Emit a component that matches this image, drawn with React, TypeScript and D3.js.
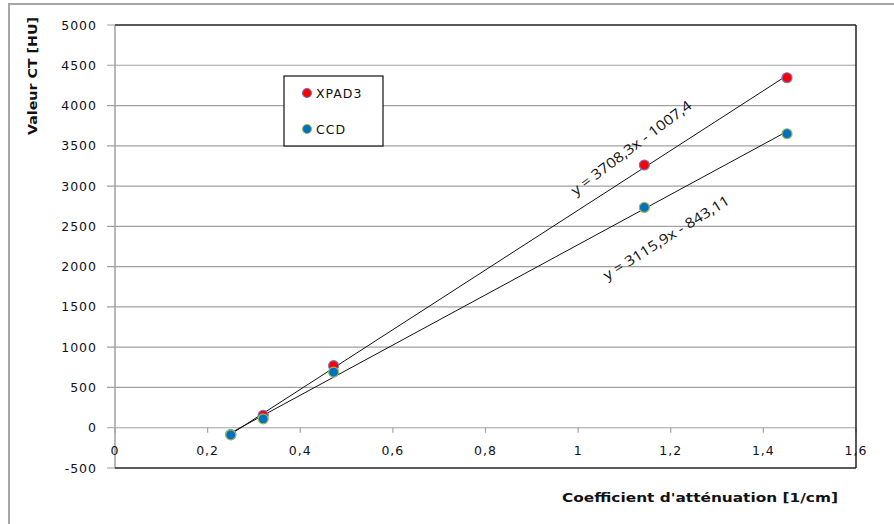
import React from "react";
import * as d3 from "d3";

const xValues = [0.25, 0.32, 0.472, 1.143, 1.451];
const xpad3Values = [-85, 155, 770, 3262, 4345];
const ccdValues = [-88, 110, 690, 2735, 3650];
const seriesNames = ["XPAD3", "CCD"];
const trendSlopes = [3708.3, 3115.9];
const trendIntercepts = [-1007.4, -843.11];
const trendLabels = ["y = 3708,3x - 1007,4", "y = 3115,9x - 843,11"];
const yTicks = [-500, 0, 500, 1000, 1500, 2000, 2500, 3000, 3500, 4000, 4500, 5000];
const xTicks = [0, 0.2, 0.4, 0.6, 0.8, 1, 1.2, 1.4, 1.6];
const yTitle = "Valeur CT [HU]";
const xTitle = "Coefficient d'atténuation [1/cm]";

const W = 894, H = 524;
const L = 115, R = 856, T = 25, B = 468;

export default function App() {
  const x = d3.scaleLinear().domain([0, 1.6]).range([L, R]);
  const y = d3.scaleLinear().domain([-500, 5000]).range([B, T]);
  const fmt = (v: number) => String(v).replace(".", ",");
  const series = [
    { name: seriesNames[0], vals: xpad3Values, fill: "#ff0000", stroke: "#7474c8" },
    { name: seriesNames[1], vals: ccdValues, fill: "#0070c0", stroke: "#9bbb59" },
  ];
  const xMin = d3.min(xValues)!, xMax = d3.max(xValues)!;
  const line = d3.line<[number, number]>().x(d => x(d[0])).y(d => y(d[1]));
  const tickFont = { fontFamily: "DejaVu Sans", fontSize: 12.5, fill: "#101020", letterSpacing: 1 };
  const labelPos = [
    { xv: 1.121, yv: 3427, angle: -37, len: 147 },
    { xv: 1.196, yv: 2309, angle: -32, len: 146 },
  ];
  return (
    <svg width={W} height={H} style={{ position: "absolute", left: 0, top: 0, background: "#fff" }}>
      <rect x={9} y={4} width={W + 20} height={H + 20} fill="#fff" stroke="#a6a6a6" strokeWidth={2} />
      {yTicks.map(t => (
        <line key={"g" + t} x1={L - 8} x2={R} y1={y(t)} y2={y(t)} stroke="#a0a0a0" strokeWidth={1.2} />
      ))}
      <line x1={L} x2={L} y1={T} y2={B} stroke="#a0a0a0" strokeWidth={1.5} />
      {xTicks.map(t => (
        <line key={"xt" + t} x1={x(t)} x2={x(t)} y1={y(0)} y2={y(0) + 5} stroke="#a0a0a0" strokeWidth={1.2} />
      ))}
      <line x1={L} x2={R} y1={T} y2={T} stroke="#333" strokeWidth={1.5} />
      <line x1={R} x2={R} y1={T} y2={B} stroke="#222" strokeWidth={1.5} />
      <line x1={L} x2={R} y1={B} y2={B} stroke="#333" strokeWidth={1.5} />
      {yTicks.map(t => (
        <text key={"yl" + t} x={97} y={y(t)} dy="0.36em" textAnchor="end" {...tickFont}>{t}</text>
      ))}
      {xTicks.map(t => (
        <text key={"xl" + t} x={x(t)} y={450} dy="0.36em" textAnchor="middle" {...tickFont}>{fmt(t)}</text>
      ))}
      {series.map((s, i) => (
        <path key={"tl" + i} d={line([[xMin, trendSlopes[i] * xMin + trendIntercepts[i]], [xMax, trendSlopes[i] * xMax + trendIntercepts[i]]])!}
          fill="none" stroke="#111" strokeWidth={1} />
      ))}
      {series.map((s, i) => (
        <g key={"s" + i}>
          {s.vals.map((v, j) => (
            <circle key={j} cx={x(xValues[j])} cy={y(v)} r={5} fill={s.fill} stroke={s.stroke} strokeWidth={1.2} />
          ))}
        </g>
      ))}
      {labelPos.map((p, i) => (
        <text key={"lab" + i} transform={`translate(${x(p.xv)},${y(p.yv)}) rotate(${p.angle})`} textAnchor="middle"
          fontFamily="Open Sans" fontSize={14} fill="#111" textLength={p.len} lengthAdjust="spacingAndGlyphs">
          {trendLabels[i]}
        </text>
      ))}
      <rect x={284} y={76} width={99} height={70} fill="#fff" stroke="#111" strokeWidth={1.2} />
      {series.map((s, i) => (
        <g key={"lg" + i}>
          <circle cx={307} cy={93 + i * 36} r={4.5} fill={s.fill} stroke={s.stroke} strokeWidth={1.2} />
          <text x={316} y={93 + i * 36} dy="0.36em" fontFamily="DejaVu Sans" fontSize={12.5} fill="#111" letterSpacing={1}>{s.name}</text>
        </g>
      ))}
      <text transform={`translate(37,76) rotate(-90)`} textAnchor="middle" fontFamily="DejaVu Sans" fontWeight="bold"
        fontSize={13} fill="#111" textLength={118} lengthAdjust="spacingAndGlyphs">{yTitle}</text>
      <text x={700} y={497} dy="0.36em" textAnchor="middle" fontFamily="DejaVu Sans" fontWeight="bold"
        fontSize={13} fill="#111" textLength={276} lengthAdjust="spacingAndGlyphs">{xTitle}</text>
    </svg>
  );
}
